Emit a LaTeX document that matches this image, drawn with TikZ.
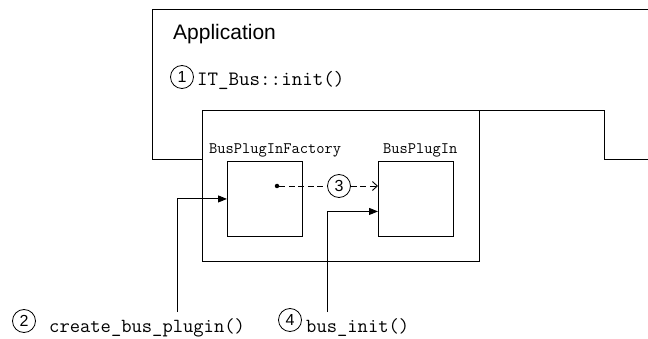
\documentclass[tikz,border=0pt]{standalone}
\usepackage{fontspec}
\setmainfont{Liberation Sans}
\usetikzlibrary{arrows.meta,calc}
\tikzset{
  outline/.style={draw=black, line width=0.9pt},
  boxnode/.style={draw=black, line width=0.9pt, inner sep=0pt, anchor=north west},
  numcirc/.style={circle, draw=black, line width=0.8pt, inner sep=0pt, minimum size=23pt, font=\fontsize{16}{16}\selectfont},
  codetext/.style={anchor=base west, inner sep=0pt, font=\ttfamily\fontsize{20}{21}\selectfont},
  smallcode/.style={anchor=base west, inner sep=0pt, font=\ttfamily\fontsize{16}{17}\selectfont},
  titletext/.style={anchor=base west, inner sep=0pt, font=\fontsize{21}{23}\selectfont},
  callarrow/.style={draw=black, line width=0.9pt, -{Triangle[length=9pt,width=7pt]}},
  dasharrow/.style={draw=black, line width=0.9pt, dash pattern=on 6pt off 3.5pt},
  dotnode/.style={circle, fill=black, inner sep=0pt, minimum size=4.5pt}
}
\begin{document}
\begin{tikzpicture}[x=1pt,y=-1pt]
\useasboundingbox (0,0) rectangle (648,339);
% application outline
\draw[outline] (648,9.5) -- (152,9.5) -- (152,159.5) -- (202,159.5);
\draw[outline] (479,110.5) -- (604.5,110.5) -- (604.5,159.5) -- (648,159.5);
\node[titletext] (apptitle) at (173,40) {Application};
\node[numcirc] (c1) at (182,77) {1};
\node[codetext, font=\ttfamily\fontsize{20.4}{21}\selectfont] (init) at (197,86) {IT\_Bus::init()};
% inner container
\node[boxnode, minimum width=277pt, minimum height=151pt] (inner) at (202,110.5) {};
\node[smallcode] (flabel) at (209,154) {BusPlugInFactory};
\node[smallcode] (plabel) at (383,154) {BusPlugIn};
\node[boxnode, minimum width=75pt, minimum height=75pt] (factory) at (227,161) {};
\node[boxnode, minimum width=75pt, minimum height=75pt] (plugin) at (378,161) {};
% step 3
\node[dotnode] (dot) at (277,186) {};
\node[numcirc] (c3) at (339,186) {3};
\draw[dasharrow] (dot) -- (c3);
\draw[dasharrow, -{Straight Barb[length=5pt,width=9pt]}] (c3) -- (c3 -| plugin.west);
% step 2
\node[numcirc] (c2) at (24,321) {2};
\node[codetext] (create) at (49,332) {create\_bus\_plugin()};
\coordinate (c2top) at (177.5,312);
\draw[callarrow] (c2top) |- (factory.west);
% step 4
\node[numcirc] (c4) at (290,320) {4};
\node[codetext] (businit) at (306,332) {bus\_init()};
\coordinate (c4top) at (327.5,312);
\coordinate (p4) at ([yshift=-12.5pt]plugin.west);
\draw[callarrow] (c4top) |- (p4);
\end{tikzpicture}
\end{document}
